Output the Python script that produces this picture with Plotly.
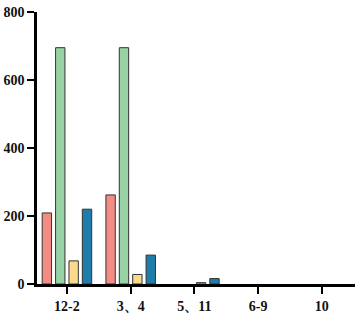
import plotly.graph_objects as go

categories = ["12-2", "3、4", "5、11", "6-9", "10"]
s_red = [209, 262, None, None, None]
s_green = [695, 695, None, None, None]
s_yellow = [68, 28, 4, None, None]
s_blue = [220, 85, 16, None, None]

colors = ["#F28C84", "#98D3A6", "#F8D98E", "#1F7DAA"]
names = ["A", "B", "C", "D"]

fig = go.Figure()
for vals, c, n in zip([s_red, s_green, s_yellow, s_blue], colors, names):
    fig.add_trace(go.Bar(x=categories, y=vals, name=n, marker=dict(color=c, line=dict(color="#333333", width=1))))

tf = dict(family="Liberation Serif", size=14, color="#111111", weight="bold")
fig.update_layout(
    width=355, height=319,
    margin=dict(l=37, r=0, t=12, b=35),
    plot_bgcolor="white", paper_bgcolor="white",
    barmode="group", bargap=0.16, bargroupgap=0.3,
    showlegend=False,
)
fig.update_xaxes(
    type="category", range=[-0.47, 4.52],
    showline=True, linecolor="black", linewidth=2.5,
    ticks="outside", ticklen=7, tickwidth=2, tickcolor="black",
    showgrid=False, tickfont=tf,
)
fig.update_yaxes(
    range=[0, 800], tickvals=[0, 200, 400, 600, 800],
    showline=True, linecolor="black", linewidth=2.5,
    ticks="outside", ticklen=7, tickwidth=2, tickcolor="black",
    showgrid=False, zeroline=False, tickfont=tf,
)
fig.write_html("out.html")
